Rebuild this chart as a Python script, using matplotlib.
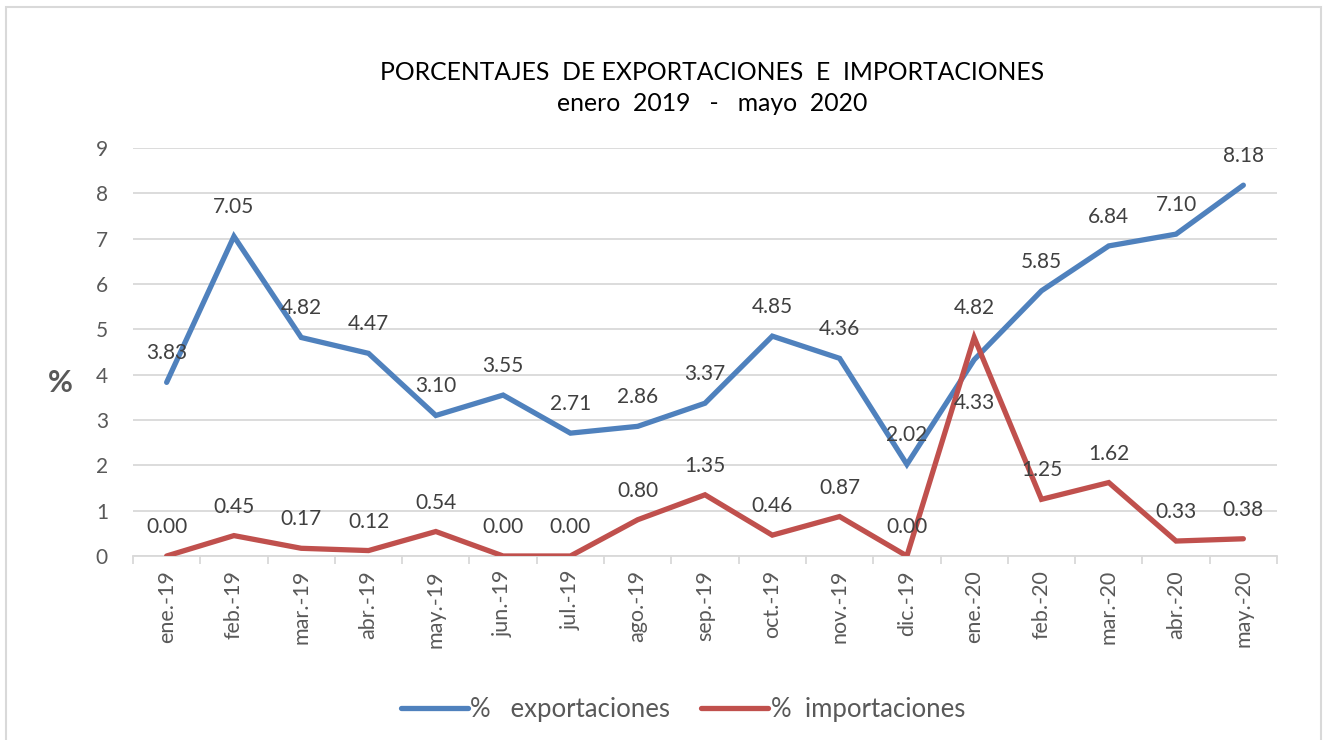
import matplotlib
matplotlib.use("Agg")
import matplotlib.pyplot as plt
from matplotlib.patches import Rectangle

plt.rcParams['font.family'] = ['Lato', 'DejaVu Sans']

categories = ["ene.-19", "feb.-19", "mar.-19", "abr.-19", "may.-19", "jun.-19", "jul.-19",
              "ago.-19", "sep.-19", "oct.-19", "nov.-19", "dic.-19", "ene.-20", "feb.-20",
              "mar.-20", "abr.-20", "may.-20"]
exportaciones = [3.83, 7.05, 4.82, 4.47, 3.10, 3.55, 2.71, 2.86, 3.37, 4.85, 4.36, 2.02,
                 4.33, 5.85, 6.84, 7.10, 8.18]
importaciones = [0.00, 0.45, 0.17, 0.12, 0.54, 0.00, 0.00, 0.80, 1.35, 0.46, 0.87, 0.00,
                 4.82, 1.25, 1.62, 0.33, 0.38]
yticks = list(range(0, 10))

title = "PORCENTAJES  DE EXPORTACIONES  E  IMPORTACIONES\nenero  2019   -   mayo  2020"
label_exp = "%   exportaciones"
label_imp = "%  importaciones"

BLUE = "#4F81BD"
RED = "#C0504D"
GRAY = "#595959"
GRID = "#D9D9D9"

fig = plt.figure(figsize=(13.27, 7.40), dpi=100)
W, H = 1327, 740
ax = fig.add_axes([133 / W, 1 - 556 / H, (1277 - 133) / W, (556 - 148) / H])

x = list(range(len(categories)))
ax.plot(x, exportaciones, color=BLUE, lw=3.8, solid_capstyle='round', solid_joinstyle='miter',
        label=label_exp, zorder=3)
ax.plot(x, importaciones, color=RED, lw=3.8, solid_capstyle='round', solid_joinstyle='miter',
        label=label_imp, zorder=3)

for i, v in enumerate(exportaciones):
    off = -43 if categories[i] == "ene.-20" else 29
    ax.annotate(f"{v:.2f}", (i, v), xytext=(0, off), textcoords='offset pixels',
                ha='center', va='center', fontsize=15, color="#404040", zorder=4)
for i, v in enumerate(importaciones):
    ax.annotate(f"{v:.2f}", (i, v), xytext=(0, 29), textcoords='offset pixels',
                ha='center', va='center', fontsize=15, color="#404040", zorder=4)

ax.set_xlim(-0.5, len(categories) - 0.5)
ax.set_ylim(0, 9)
ax.set_yticks(yticks)
ax.set_yticklabels([str(t) for t in yticks], fontsize=15, color=GRAY)
ax.tick_params(axis='y', length=0, pad=18)
ax.grid(axis='y', color=GRID, lw=1.3, zorder=0)
ax.set_axisbelow(True)

ax.set_xticks(x)
ax.set_xticklabels(categories, rotation=90, fontsize=15.5, color=GRAY)
ax.tick_params(axis='x', length=0, pad=10)
ax.set_xticks([i - 0.5 for i in range(len(categories) + 1)], minor=True)
ax.tick_params(axis='x', which='minor', length=6, color=GRID, width=1.3)

for s in ['top', 'right', 'left']:
    ax.spines[s].set_visible(False)
ax.spines['bottom'].set_color(GRID)
ax.spines['bottom'].set_linewidth(1.3)

fig.text(60 / W, 1 - 383 / H, "%", fontsize=22, fontweight='bold', color=GRAY,
         ha='center', va='center')
fig.text(712 / W, 1 - 88 / H, title, fontsize=17.8, color="#000000", ha='center', va='center',
         linespacing=1.45)

leg = fig.legend(loc='center', bbox_to_anchor=(683 / W, 1 - 709 / H), ncol=2, frameon=False,
                 fontsize=18.5, handlelength=2.6, handletextpad=0.1, columnspacing=1.2)
for t in leg.get_texts():
    t.set_color(GRAY)

fig.patches.append(Rectangle((6 / W, -0.01), (1321 - 6) / W, 1 - 7 / H + 0.01,
                             transform=fig.transFigure, fill=False, edgecolor=GRID, lw=1.5))

fig.savefig("out.png", dpi=100, facecolor="white")
